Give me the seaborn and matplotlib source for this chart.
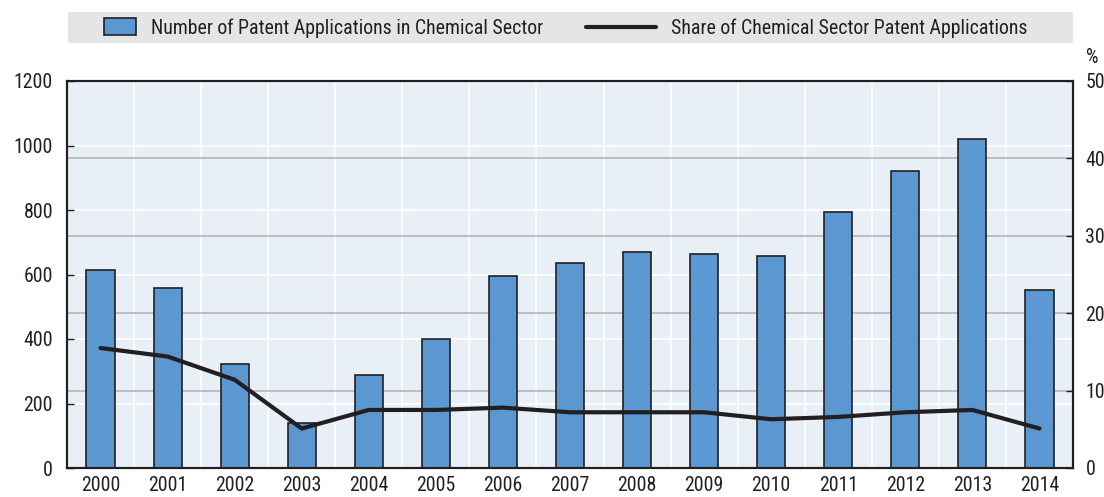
import numpy as np
import matplotlib
matplotlib.use("Agg")
import matplotlib.pyplot as plt
from matplotlib import font_manager
import seaborn as sns
from matplotlib.patches import Rectangle
from matplotlib.lines import Line2D
from matplotlib.legend_handler import HandlerPatch
from matplotlib.ticker import FixedLocator

# data
years = ["2000", "2001", "2002", "2003", "2004", "2005", "2006", "2007",
         "2008", "2009", "2010", "2011", "2012", "2013", "2014"]
applications = [614, 558, 321, 138, 287, 400, 594, 636,
                669, 665, 657, 793, 920, 1021, 551]
share_pct = [15.5, 14.4, 11.4, 5.1, 7.5, 7.5, 7.8, 7.2,
             7.2, 7.2, 6.3, 6.6, 7.2, 7.5, 5.1]
left_ticks = [0, 200, 400, 600, 800, 1000, 1200]
right_ticks = [0, 10, 20, 30, 40, 50]

sns.set_theme(style="white")

# the reference uses a condensed face; take one if it is installed
installed = {f.name for f in font_manager.fontManager.ttflist}
condensed_dejavu = any(f.name == "DejaVu Sans" and "condensed" in str(f.stretch)
                       for f in font_manager.fontManager.ttflist)
font_stretch = "normal"
fs = 12.5
family = "Liberation Sans"
for name in ["Roboto Condensed", "Liberation Sans Narrow", "Open Sans Condensed"]:
    if name in installed:
        family, fs = name, 14.3
        break
else:
    if condensed_dejavu:
        family, fs, font_stretch = "DejaVu Sans", 13, "condensed"
plt.rcParams['font.family'] = [family, 'DejaVu Sans']
plt.rcParams['font.stretch'] = font_stretch

bar_color = "#5B97D0"
dark = "#231F20"
bg = "#E9EFF7"

fig = plt.figure(figsize=(11.04, 4.97), dpi=100)
ax = fig.add_axes([67 / 1104, 1 - 468 / 497, (1073 - 67) / 1104, (468 - 81) / 497])
ax.set_facecolor(bg)

sns.barplot(x=years, y=applications, color=bar_color, edgecolor=dark,
            linewidth=1.2, width=0.42, saturation=1, ax=ax, zorder=3)

ax.set_xlim(-0.5, len(years) - 0.5)
ax.set_ylim(0, 1200)
ax.set_yticks(left_ticks)
# grey lines follow the right-hand scale, drawn behind the bars
ax.yaxis.set_minor_locator(FixedLocator([t * 1200 / 50 for t in right_ticks[1:-1]]))
ax.grid(axis="y", which="major", color="white", linewidth=1.2, zorder=0)
ax.grid(axis="y", which="minor", color="#B3B5B8", linewidth=1.2, zorder=0)
ax.xaxis.set_minor_locator(FixedLocator(np.arange(len(years) - 1) + 0.5))
ax.grid(axis="x", which="minor", color="white", linewidth=1.2, zorder=0)
ax.set_axisbelow(True)

ax.tick_params(axis="x", which="major", length=0, pad=6, labelsize=fs, colors=dark)
ax.tick_params(axis="x", which="minor", direction="in", length=5, width=1, color=dark)
ax.tick_params(axis="y", which="major", direction="in", length=5, width=1, color=dark,
               pad=10, labelsize=fs, labelcolor=dark)
ax.tick_params(axis="y", which="minor", length=0)
ax.set_xlabel("")
ax.set_ylabel("")

ax2 = ax.twinx()
sns.lineplot(x=np.arange(len(years)), y=share_pct, color=dark, linewidth=3, ax=ax2)
ax2.set_ylim(0, 50)
ax2.set_yticks(right_ticks)
ax2.tick_params(axis="y", direction="in", length=5, width=1, color=dark,
                pad=9, labelsize=fs, labelcolor=dark)
ax2.set_ylabel("")
ax2.text(1.0 + 13 / 1006, 1.035, "%", transform=ax2.transAxes, fontsize=fs,
         color=dark, ha="left", va="bottom")

for a in (ax, ax2):
    for s in a.spines.values():
        s.set_visible(True)
        s.set_color(dark)
        s.set_linewidth(1.5)

# legend band at the top
fig.patches.append(Rectangle((68 / 1104, 1 - 43 / 497), (1073 - 68) / 1104, 31 / 497,
                             transform=fig.transFigure, facecolor="#E4E5E7",
                             edgecolor="none", zorder=0))


def small_box(legend, orig_handle, xdescent, ydescent, width, height, fontsize):
    # a short box sitting at the right end of the handle slot
    w = width * 0.46
    return Rectangle((-xdescent + width - w, -ydescent - 1), w, height + 2)


bar_handle = Rectangle((0, 0), 1, 1, facecolor=bar_color, edgecolor=dark, linewidth=1.2)
line_handle = Line2D([0], [0], color=dark, linewidth=3)
fig.legend([bar_handle, line_handle],
           ["Number of Patent Applications in Chemical Sector",
            "Share of Chemical Sector Patent Applications"],
           loc="center", bbox_to_anchor=(547 / 1104, 1 - 28 / 497), ncol=2,
           frameon=False, fontsize=fs, handlelength=3.5, handletextpad=0.75,
           columnspacing=2.15, labelcolor=dark,
           handler_map={Rectangle: HandlerPatch(patch_func=small_box)})

fig.savefig("out.png", dpi=100)
